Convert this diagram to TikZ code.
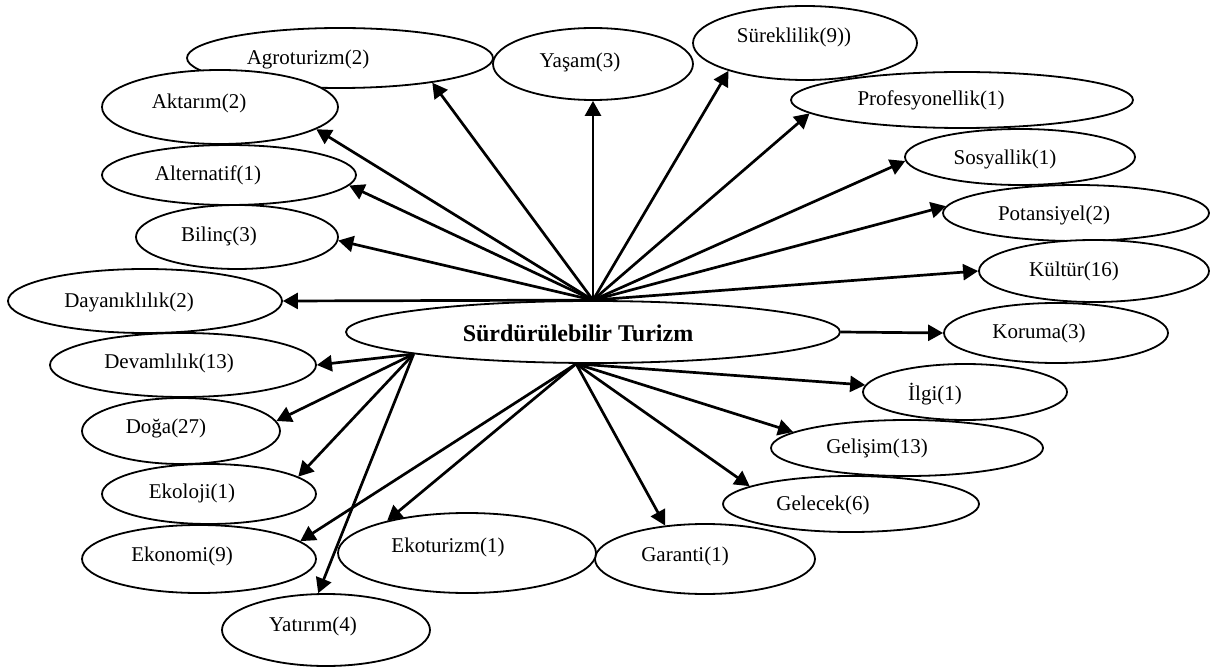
\documentclass[tikz,border=0pt]{standalone}
\usepackage{fontspec}
\setmainfont{Liberation Serif}
\usepackage{tikz}
\usetikzlibrary{shapes}
\usetikzlibrary{arrows.meta}
\newcommand{\topic}[8]{ \node[topic, minimum width=#4pt, minimum height=#5pt] (#1) at ( #2 , #3 ) {}; \node[word] at ( #6 , #7 ) {#8};}

\begin{document}
\begin{tikzpicture}[x=1pt, y=-1pt,
    topic/.style={ellipse, draw, fill=white, line width=1.8pt, inner sep=0pt},
    word/.style={inner sep=0pt, font=\fontsize{21}{25}\selectfont},
    link/.style={line width=2.7pt, -{Triangle[length=15pt, width=16pt]}}]
        \useasboundingbox (0,0) rectangle (1210,668);
        % top row
        \topic{agro}{340}{58}{306}{60}{308}{59}{Agroturizm(2)}
        \topic{yasam}{593}{64}{200}{72}{580}{62}{Yaşam(3)}
        \topic{surek}{805}{43}{224}{74}{794}{37}{Süreklilik(9))}
        % right side
        \topic{profes}{962}{100}{342}{56}{931}{100}{Profesyonellik(1)}
        \topic{sosyal}{1020}{157}{230}{56}{1005}{159}{Sosyallik(1)}
        \topic{potan}{1076}{213}{266}{56}{1054}{215}{Potansiyel(2)}
        \topic{kultur}{1094}{271}{230}{62}{1074}{271}{Kültür(16)}
        \topic{koruma}{1056}{333}{224}{60}{1039}{333}{Koruma(3)}
        \topic{ilgi}{965}{392}{204}{56}{935}{394}{İlgi(1)}
        \topic{gelisim}{907}{448}{272}{56}{877}{448}{Gelişim(13)}
        \topic{gelecek}{851}{504}{256}{56}{823}{505}{Gelecek(6)}
        % bottom row
        \topic{garanti}{705}{559}{220}{70}{685}{556}{Garanti(1)}
        \topic{ekotur}{467}{553}{258}{80}{448}{547}{Ekoturizm(1)}
        \topic{yatirim}{326}{630}{208}{72}{313}{626}{Yatırım(4)}
        % left side
        \topic{aktar}{220}{107}{236}{74}{199}{103}{Aktarım(2)}
        \topic{altern}{229}{175}{254}{60}{208}{175}{Alternatif(1)}
        \topic{bilinc}{237}{237}{202}{64}{219}{236}{Bilinç(3)}
        \topic{dayan}{145}{301}{274}{64}{129}{302}{Dayanıklılık(2)}
        \topic{devam}{183}{365}{266}{64}{169}{363}{Devamlılık(13)}
        \topic{doga}{181}{431}{198}{66}{166}{428}{Doğa(27)}
        \topic{ekoloji}{209}{494}{214}{60}{192}{493}{Ekoloji(1)}
        \topic{ekonomi}{199}{559}{234}{68}{182}{556}{Ekonomi(9)}
        % centre
        \topic{main}{593}{332}{494}{62}{578}{333}{\fontsize{24}{28}\selectfont\bfseries Sürdürülebilir Turizm}
        \coordinate (upfan) at (main.north);
        \coordinate (leftfan) at (main.187);
        \coordinate (downfan) at (main.242);
        % upper fan
        \draw[link] (upfan) -- (agro.-15);
        \draw[link] (upfan) -- (aktar.-13);
        \draw[link] (upfan) -- (altern.-5);
        \draw[link] (upfan) -- (bilinc.-2);
        \draw[link] (upfan) -- (dayan.east);
        \draw[link] (upfan) -- (yasam.south);
        \draw[link] (upfan) -- (surek.200);
        \draw[link] (upfan) -- (profes.185);
        \draw[link] (upfan) -- (sosyal.182);
        \draw[link] (upfan) -- (potan.177);
        \draw[link] (upfan) -- (kultur.west);
        \draw[link] (main.east) -- (koruma.west);
        % lower left fan
        \draw[link] (leftfan) -- (devam.east);
        \draw[link] (leftfan) -- (doga.6);
        \draw[link] (leftfan) -- (ekoloji.11);
        \draw[link] (leftfan) -- (yatirim.102);
        % lower fan
        \draw[link] (downfan) -- (ekonomi.10);
        \draw[link] (downfan) -- (ekotur.158);
        \draw[link] (downfan) -- (garanti.140);
        \draw[link] (downfan) -- (gelecek.170);
        \draw[link] (downfan) -- (gelisim.172);
        \draw[link] (downfan) -- (ilgi.176);
    \end{tikzpicture}
\end{document}
